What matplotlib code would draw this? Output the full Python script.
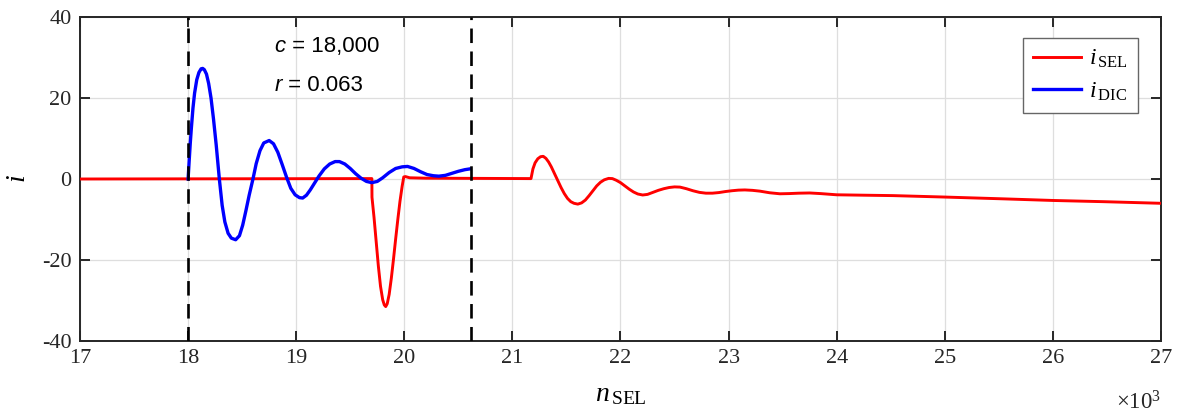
import matplotlib
matplotlib.use("Agg")
import matplotlib.pyplot as plt
from matplotlib.ticker import FuncFormatter
from matplotlib.offsetbox import TextArea, HPacker, AnnotationBbox

plt.rcParams['mathtext.fontset'] = 'custom'
plt.rcParams['mathtext.rm'] = 'Liberation Serif'
plt.rcParams['mathtext.it'] = 'Liberation Serif:italic'
plt.rcParams['font.family'] = ['Liberation Serif', 'DejaVu Serif']
plt.rcParams['axes.unicode_minus'] = False

# ---- data (n in thousands of samples, i values) ----
blue_n_k = [18.000, 18.010, 18.020, 18.030, 18.045, 18.060, 18.080, 18.100, 18.120, 18.135,
            18.150, 18.170, 18.190, 18.212, 18.235, 18.260, 18.289, 18.315, 18.340, 18.370,
            18.400, 18.440, 18.475, 18.505, 18.535, 18.565, 18.600, 18.630, 18.665, 18.700,
            18.750, 18.790, 18.830, 18.870, 18.910, 18.950, 18.990, 19.030, 19.060, 19.095,
            19.130, 19.170, 19.210, 19.260, 19.310, 19.360, 19.400, 19.450, 19.500, 19.550,
            19.600, 19.650, 19.700, 19.750, 19.800, 19.860, 19.920, 19.980, 20.030, 20.090,
            20.150, 20.210, 20.270, 20.320, 20.380, 20.440, 20.500, 20.560, 20.608]
blue_i = [0.0, 4.5, 8.8, 12.5, 17.5, 21.2, 24.5, 26.3, 27.2, 27.3,
          27.0, 25.9, 23.6, 20.0, 14.8, 8.4, 0.0, -6.5, -10.6, -13.4,
          -14.6, -15.0, -14.0, -11.4, -7.8, -4.0, 0.0, 3.8, 7.0, 8.9,
          9.5, 8.7, 6.6, 3.6, 0.5, -2.3, -3.9, -4.6, -4.7, -4.0,
          -2.7, -1.0, 0.7, 2.5, 3.7, 4.3, 4.3, 3.7, 2.6, 1.3,
          0.2, -0.6, -0.9, -0.6, 0.3, 1.6, 2.6, 3.0, 3.1, 2.6,
          1.8, 1.1, 0.8, 0.7, 0.9, 1.4, 1.9, 2.3, 2.5]

red_n_k = [17.000, 19.700, 19.701, 19.720, 19.740, 19.760, 19.780, 19.800, 19.815, 19.828,
           19.842, 19.860, 19.880, 19.900, 19.920, 19.940, 19.960, 19.980, 19.995, 20.010,
           20.050, 20.200, 21.172, 21.190, 21.210, 21.235, 21.260, 21.285, 21.310, 21.335,
           21.360, 21.390, 21.420, 21.450, 21.480, 21.510, 21.540, 21.570, 21.605, 21.640,
           21.675, 21.710, 21.745, 21.780, 21.815, 21.850, 21.890, 21.925, 21.960, 22.000,
           22.040, 22.080, 22.120, 22.160, 22.205, 22.250, 22.300, 22.350, 22.400, 22.450,
           22.500, 22.550, 22.610, 22.670, 22.730, 22.790, 22.850, 22.910, 22.970, 23.030,
           23.090, 23.150, 23.220, 23.290, 23.380, 23.475, 23.560, 23.650, 23.750, 23.850,
           24.000, 24.250, 24.520, 24.990, 25.540, 26.000, 26.470, 27.000]
red_i = [0.0, 0.1, -4.5, -9.5, -15.5, -21.5, -26.5, -29.8, -31.1, -31.5,
         -30.8, -28.5, -24.5, -19.8, -14.8, -10.0, -5.5, -1.8, 0.5, 0.6,
         0.3, 0.2, 0.1, 2.5, 4.0, 5.0, 5.5, 5.6, 5.1, 4.2,
         3.0, 1.3, -0.4, -2.1, -3.6, -4.8, -5.6, -6.0, -6.2, -5.9,
         -5.2, -4.1, -2.9, -1.7, -0.8, -0.2, 0.15, 0.1, -0.3, -0.9,
         -1.7, -2.5, -3.2, -3.7, -3.95, -3.8, -3.3, -2.8, -2.4, -2.1,
         -1.95, -2.0, -2.4, -2.9, -3.3, -3.5, -3.5, -3.35, -3.1, -2.9,
         -2.75, -2.7, -2.8, -3.0, -3.4, -3.65, -3.6, -3.5, -3.45, -3.6,
         -3.9, -4.0, -4.1, -4.45, -4.9, -5.3, -5.6, -6.0]

marker_n = [18000, 20620]
x_ticks_k = [17, 18, 19, 20, 21, 22, 23, 24, 25, 26, 27]
y_ticks = [-40, -20, 0, 20, 40]

blue_n = [v * 1000 for v in blue_n_k]
red_n = [v * 1000 for v in red_n_k]

fig = plt.figure(figsize=(11.77, 4.18), dpi=100)
ax = fig.add_axes([80/1177, 77/418, 1081/1177, 324/418])

ax.plot(red_n, red_i, color=(1, 0, 0), lw=2.1, label=r'$i_{\,\mathrm{SEL}}$', zorder=3,
        solid_joinstyle='round')
ax.plot(blue_n, blue_i, color=(0, 0, 1), lw=2.4, label=r'$i_{\,\mathrm{DIC}}$', zorder=4,
        solid_joinstyle='round')
for m in marker_n:
    ax.axvline(m, color='black', lw=1.9, linestyle=(0, (5.5, 3.2)), zorder=5)

ax.set_xlim(17000, 27000)
ax.set_ylim(-40, 40)
ax.set_xticks([t * 1000 for t in x_ticks_k])
ax.xaxis.set_major_formatter(FuncFormatter(lambda v, p: f"{v/1000:g}"))
ax.set_yticks(y_ticks)

ax.grid(True, color=(0.87, 0.87, 0.87), lw=0.9)
ax.set_axisbelow(True)
for s in ax.spines.values():
    s.set_linewidth(1.4)
    s.set_color((0.15, 0.15, 0.15))
ax.tick_params(direction='in', length=7.5, width=1.4, colors=(0.15, 0.15, 0.15),
               top=True, right=True, labelsize=16)
ax.tick_params(axis='x', pad=6)
ax.tick_params(axis='y', pad=6)

ax.set_xlabel(r'$n_{\,\mathrm{SEL}}$', fontsize=20, labelpad=10)
ax.set_ylabel(r'$i$', fontsize=20, labelpad=8)
ax.text(1.0, -0.155, r'$\times\mathrm{10}^{3}$', transform=ax.transAxes, ha='right',
        va='top', fontsize=16.5, color=(0.15, 0.15, 0.15))

leg = ax.legend(loc='upper right', bbox_to_anchor=(0.9787, 0.9355), fontsize=17,
                frameon=True, fancybox=False, handlelength=2.05, handletextpad=0.35,
                borderpad=0.42, labelspacing=0.45, borderaxespad=0)
leg.get_frame().set_edgecolor((0.4, 0.4, 0.4))
leg.get_frame().set_linewidth(1.0)
leg.get_frame().set_alpha(1)

def annot(sym, rest, y):
    t1 = TextArea(sym, textprops=dict(family='Liberation Sans', style='italic', size=16))
    t2 = TextArea(rest, textprops=dict(family='Liberation Sans', size=16))
    box = HPacker(children=[t1, t2], align='baseline', pad=0, sep=0)
    ab = AnnotationBbox(box, (18800, y), xycoords='data', box_alignment=(0, 0.5),
                        frameon=False, pad=0)
    ax.add_artist(ab)

annot('c', ' = 18,000', 32.6)
annot('r', ' = 0.063', 23.2)

fig.savefig('out.png', dpi=100)
